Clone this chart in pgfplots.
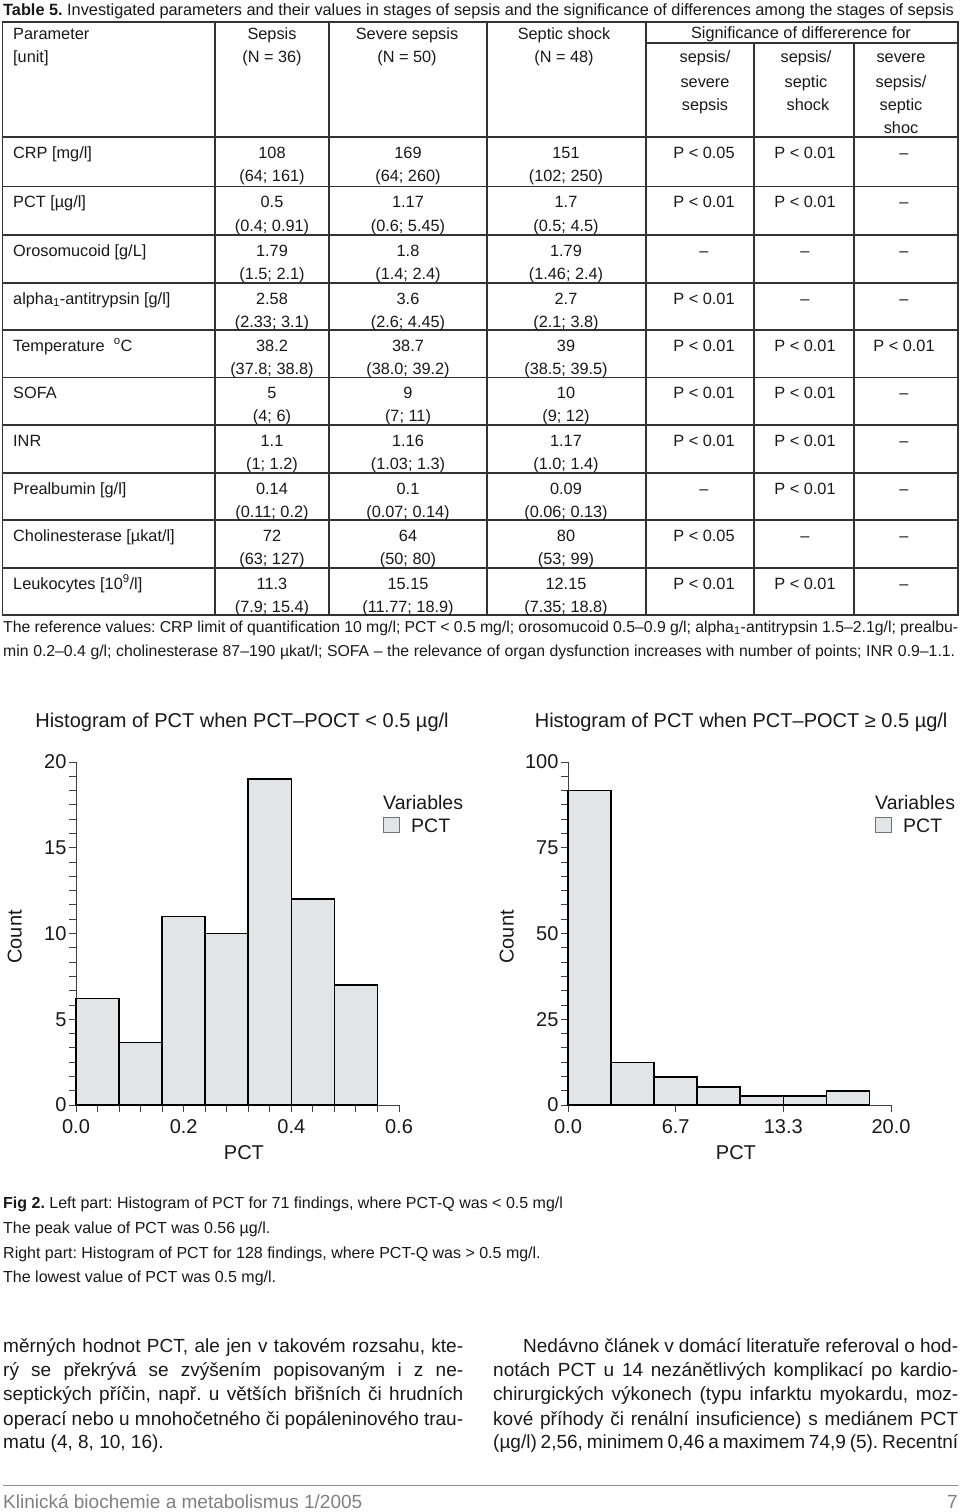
\documentclass[border=0pt]{standalone}
\usepackage{fontspec}
\setmainfont{Liberation Sans}
\usepackage{pgfplots}
\pgfplotsset{compat=1.18}
\frenchspacing
\definecolor{barfill}{RGB}{227,228,230}
\definecolor{ink}{RGB}{25,25,25}
\newcommand\fs[1]{\fontsize{#1}{#1}\selectfont}
% table row helpers
\newcommand\rowA[8]{%
  \node[anchor=base west] at (13,{#1+21}) {#2};
  \node[anchor=base] at (272,{#1+21}) {#3};
  \node[anchor=base] at (272,{#1+44.5}) {#4};
  \node[anchor=base] at (408,{#1+21}) {#5};
  \node[anchor=base] at (408,{#1+44.5}) {#6};
  \node[anchor=base] at (566,{#1+21}) {#7};
  \node[anchor=base] at (566,{#1+44.5}) {#8};
}
\newcommand\rowB[4]{%
  \node[anchor=base] at (704,{#1+21}) {#2};
  \node[anchor=base] at (805,{#1+21}) {#3};
  \node[anchor=base] at (904,{#1+21}) {#4};
}
\begin{document}
\frenchspacing
\begin{tikzpicture}
\useasboundingbox (0,0) rectangle (960pt,-1512pt);
\fill[white] (0,0) rectangle (960pt,-1512pt);
\begin{scope}[x=1pt,y=-1pt,every node/.append style={inner sep=0pt,text=ink,font=\fs{16.3}}]
  % title
  \node[anchor=base west] at (3,16) {\textbf{Table 5.} Investigated parameters and their values in stages of sepsis and the significance of differences among the stages of sepsis};
  % grid
  \begin{scope}[line width=1.2pt, draw=black!80]
    \draw (2.5,22) rectangle (958,615);
    \foreach \y in {137,186.7,235,283,330,377.3,425,473,520,568} \draw (2.5,\y) -- (958,\y);
    \foreach \x in {215,329,487,646} \draw (\x,22) -- (\x,615);
    \draw (646,43) -- (958,43);
    \foreach \x in {754,854} \draw (\x,43) -- (\x,615);
  \end{scope}
  % header
  \node[anchor=base west] at (13,39.5) {Parameter};
  \node[anchor=base west] at (13,63) {[unit]};
  \node[anchor=base] at (272,39.5) {Sepsis};
  \node[anchor=base] at (272,63) {(N = 36)};
  \node[anchor=base] at (407,39.5) {Severe sepsis};
  \node[anchor=base] at (407,63) {(N = 50)};
  \node[anchor=base] at (564,39.5) {Septic shock};
  \node[anchor=base] at (564,63) {(N = 48)};
  \node[anchor=base] at (801,39) {Significance of differerence for};
  \node[anchor=base] at (705,63) {sepsis/};
  \node[anchor=base] at (705,87) {severe};
  \node[anchor=base] at (705,110) {sepsis};
  \node[anchor=base] at (806,63) {sepsis/};
  \node[anchor=base] at (806,87) {septic};
  \node[anchor=base] at (808,110) {shock};
  \node[anchor=base] at (901,63) {severe};
  \node[anchor=base] at (901,87) {sepsis/};
  \node[anchor=base] at (901,110) {septic};
  \node[anchor=base] at (901,133.5) {shoc};
  % rows
  \rowA{137}{CRP [mg/l]}{108}{(64; 161)}{169}{(64; 260)}{151}{(102; 250)}
  \rowB{137}{P < 0.05}{P < 0.01}{–}
  \rowA{186.7}{PCT [µg/l]}{0.5}{(0.4; 0.91)}{1.17}{(0.6; 5.45)}{1.7}{(0.5; 4.5)}
  \rowB{186.7}{P < 0.01}{P < 0.01}{–}
  \rowA{235}{Orosomucoid [g/L]}{1.79}{(1.5; 2.1)}{1.8}{(1.4; 2.4)}{1.79}{(1.46; 2.4)}
  \rowB{235}{–}{–}{–}
  \rowA{283}{alpha\textsubscript{1}-antitrypsin [g/l]}{2.58}{(2.33; 3.1)}{3.6}{(2.6; 4.45)}{2.7}{(2.1; 3.8)}
  \rowB{283}{P < 0.01}{–}{–}
  \rowA{330}{Temperature\ \ \textsuperscript{o}C}{38.2}{(37.8; 38.8)}{38.7}{(38.0; 39.2)}{39}{(38.5; 39.5)}
  \rowB{330}{P < 0.01}{P < 0.01}{P < 0.01}
  \rowA{377.3}{SOFA}{5}{(4; 6)}{9}{(7; 11)}{10}{(9; 12)}
  \rowB{377.3}{P < 0.01}{P < 0.01}{–}
  \rowA{425}{INR}{1.1}{(1; 1.2)}{1.16}{(1.03; 1.3)}{1.17}{(1.0; 1.4)}
  \rowB{425}{P < 0.01}{P < 0.01}{–}
  \rowA{473}{Prealbumin [g/l]}{0.14}{(0.11; 0.2)}{0.1}{(0.07; 0.14)}{0.09}{(0.06; 0.13)}
  \rowB{473}{–}{P < 0.01}{–}
  \rowA{520}{Cholinesterase [µkat/l]}{72}{(63; 127)}{64}{(50; 80)}{80}{(53; 99)}
  \rowB{520}{P < 0.05}{–}{–}
  \rowA{568}{Leukocytes [10\textsuperscript{9}/l]}{11.3}{(7.9; 15.4)}{15.15}{(11.77; 18.9)}{12.15}{(7.35; 18.8)}
  \rowB{568}{P < 0.01}{P < 0.01}{–}
  % reference values
  \node[anchor=base west,font=\fs{15.8}] at (3,632) {\makebox[955pt][s]{The reference values: CRP limit of quantification 10 mg/l; PCT < 0.5 mg/l; orosomucoid 0.5–0.9 g/l; alpha\textsubscript{1}-antitrypsin 1.5–2.1g/l; prealbu-}};
  \node[anchor=base west,font=\fs{15.8}] at (3,656) {\makebox[952pt][s]{min 0.2–0.4 g/l; cholinesterase 87–190 µkat/l; SOFA – the relevance of organ dysfunction increases with number of points; INR 0.9–1.1.}};
  % legends of histograms
  \node[anchor=base west,font=\fs{19.5}] at (383,809) {Variables};
  \draw[fill=barfill,draw=black!55,line width=0.8pt] (383,817) rectangle (399,832);
  \node[anchor=base west,font=\fs{19.5}] at (411,832) {PCT};
  \node[anchor=base west,font=\fs{19.5}] at (875,809) {Variables};
  \draw[fill=barfill,draw=black!55,line width=0.8pt] (875,817) rectangle (891,832);
  \node[anchor=base west,font=\fs{19.5}] at (903,832) {PCT};
  % caption
  \node[anchor=base west,font=\fs{16}] at (3,1208) {\textbf{Fig 2.} Left part: Histogram of PCT for 71 findings, where PCT-Q was < 0.5 mg/l};
  \node[anchor=base west,font=\fs{16}] at (3,1233) {The peak value of PCT was 0.56 µg/l.};
  \node[anchor=base west,font=\fs{16}] at (3,1258) {Right part: Histogram of PCT for 128 findings, where PCT-Q was > 0.5 mg/l.};
  \node[anchor=base west,font=\fs{16}] at (3,1282) {The lowest value of PCT was 0.5 mg/l.};
  % body text
  \begin{scope}[every node/.append style={font=\fs{19}}]
  \node[anchor=base west] at (3,1352) {\makebox[460pt][s]{měrných hodnot PCT, ale jen v takovém rozsahu, kte-}};
  \node[anchor=base west] at (3,1376) {\makebox[460pt][s]{rý se překrývá se zvýšením popisovaným i z ne-}};
  \node[anchor=base west] at (3,1400) {\makebox[460pt][s]{septických příčin, např. u větších břišních či hrudních}};
  \node[anchor=base west] at (3,1425) {\makebox[460pt][s]{operací nebo u mnohočetného či popáleninového trau-}};
  \node[anchor=base west] at (3,1448) {matu (4, 8, 10, 16).};
  \node[anchor=base west] at (523,1352) {\makebox[435pt][s]{Nedávno článek v domácí literatuře referoval o hod-}};
  \node[anchor=base west] at (493,1376) {\makebox[465pt][s]{notách PCT u 14 nezánětlivých komplikací po kardio-}};
  \node[anchor=base west] at (493,1400) {\makebox[465pt][s]{chirurgických výkonech (typu infarktu myokardu, moz-}};
  \node[anchor=base west] at (493,1425) {\makebox[465pt][s]{kové příhody či renální insuficience) s mediánem PCT}};
  \node[anchor=base west] at (493,1448) {\makebox[465pt][s]{(µg/l) 2,56, minimem 0,46 a maximem 74,9 (5). Recentní}};
  \end{scope}
  % footer
  \draw[black!45,line width=1pt] (3,1485) -- (958,1485);
  \node[anchor=base west,font=\fs{19},text=black!50] at (3,1508) {Klinická biochemie a metabolismus 1/2005};
  \node[anchor=base east,font=\fs{19},text=black!50] at (958,1508) {7};
\end{scope}

\pgfplotsset{histo/.style={
  scale only axis, width=323pt, height=343pt, anchor=south west,
  axis lines=left, axis line style={-, draw=black!75, line width=0.9pt},
  tick align=outside, major tick length=7pt, minor tick length=7pt,
  tick style={draw=black!75, line width=0.9pt},
  minor x tick num=4, minor y tick num=5,
  ticklabel style={font=\fs{20}, text=ink},
  xticklabel style={yshift=-4pt},
  yticklabel style={xshift=1pt},
  label style={font=\fs{20}, text=ink},
  xlabel={PCT}, ylabel={Count},
  xlabel style={at={(axis description cs:0.52,-0.16)}, anchor=base},
  ylabel style={at={(axis description cs:-0.19,0.49)}, anchor=center},
  title style={font=\fs{20}, text=ink, anchor=base},
  clip=false, enlargelimits=false,
}}

\begin{axis}[histo, at={(76pt,-1105pt)},
  xmin=0, xmax=0.6, ymin=0, ymax=20,
  xtick={0,0.2,0.4,0.6}, xticklabels={0.0,0.2,0.4,0.6},
  ytick={0,5,10,15,20}, yticklabels={0,5,10,15,20},
  title={Histogram of PCT when PCT–POCT < 0.5 µg/l},
  title style={at={(axis description cs:0.514,1.0845)}},
]
\addplot[ybar interval, fill=barfill, draw=black, line width=1.6pt] coordinates {
  (0,6.2) (0.08,3.65) (0.16,11) (0.24,10) (0.32,19) (0.40,12) (0.48,7) (0.56,7)};
\end{axis}

\begin{axis}[histo, at={(568pt,-1105pt)},
  xmin=0, xmax=20, ymin=0, ymax=100,
  xtick={0,6.6667,13.3333,20}, xticklabels={0.0,6.7,13.3,20.0},
  ytick={0,25,50,75,100}, yticklabels={0,25,50,75,100},
  title={Histogram of PCT when PCT–POCT ≥ 0.5 µg/l},
  title style={at={(axis description cs:0.536,1.0845)}},
]
\addplot[ybar interval, fill=barfill, draw=black, line width=1.6pt] coordinates {
  (0,91.7) (2.6667,12.4) (5.3333,8.2) (8,5.3) (10.6667,2.7) (13.3333,2.7) (16,4.1) (18.6667,4.1)};
\end{axis}
\end{tikzpicture}
\end{document}
